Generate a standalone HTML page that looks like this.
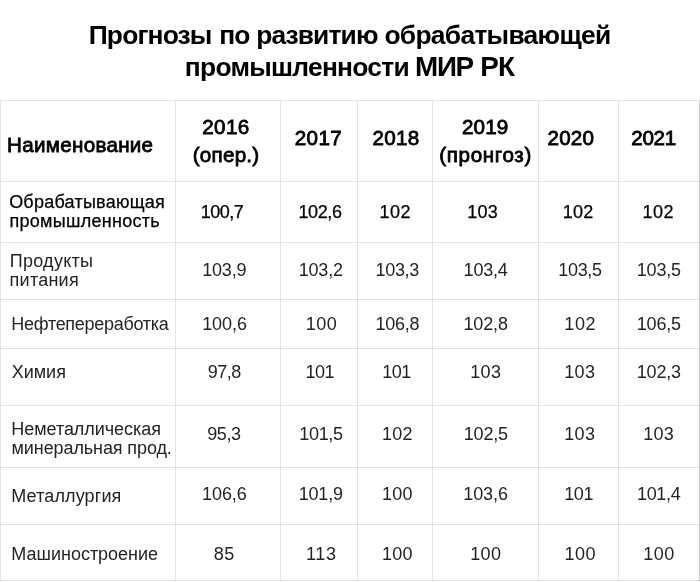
<!DOCTYPE html>
<html lang="ru">
<head>
<meta charset="utf-8">
<title>Прогнозы по развитию обрабатывающей промышленности МИР РК</title>
<style>
html,body{margin:0;padding:0;background:#fff;}
body{width:700px;height:582px;position:relative;overflow:hidden;font-family:"Liberation Sans",sans-serif;color:#111;}
h1{position:absolute;left:0;top:0;width:700px;height:100px;margin:0;font-size:26.4px;line-height:32px;font-weight:bold;color:#000;white-space:nowrap;}
h1 span{position:absolute;}
table{position:absolute;left:0;top:100px;border-collapse:separate;border-spacing:0;table-layout:fixed;width:700px;border-left:1px solid transparent;border-top:1px solid transparent;}
td,th{box-sizing:border-box;border-right:1px solid transparent;border-bottom:1px solid transparent;padding:0;text-align:center;vertical-align:middle;font-size:18px;line-height:19px;font-weight:normal;overflow:hidden;white-space:nowrap;}
th{font-weight:normal;font-size:20.6px;line-height:27.3px;-webkit-text-stroke:0.8px #000;color:#000;}
tbody tr:first-child td{-webkit-text-stroke:0.25px #000;color:#000;}
tbody tr+tr td{color:#242424;}
td:first-child,th:first-child{text-align:left;padding-left:10px;}
td span,th span{position:relative;display:inline-block;vertical-align:top;}
.grid i{position:absolute;display:block;background:rgba(0,0,0,.105);}
.grid .h{left:0;width:700px;height:1px;}
.grid .v{top:101px;width:1px;height:480px;}
.grid .v.e{background:rgba(0,0,0,.22);}
</style>
</head>
<body>
<h1><span style="left:88.72px;top:18.5px;letter-spacing:-0.84px">Прогнозы</span> <span style="left:219.28px;top:18.5px;letter-spacing:-0.85px">по</span> <span style="left:256.15px;top:18.5px;letter-spacing:-0.87px">развитию</span> <span style="left:384.46px;top:18.5px;letter-spacing:-0.71px">обрабатывающей</span> <span style="left:184.86px;top:51px;letter-spacing:-0.74px">промышленности</span> <span style="left:415.12px;top:51px;letter-spacing:-1.33px;font-size:27.8px">МИР</span> <span style="left:480.37px;top:51px;letter-spacing:-0.82px;font-size:27.8px">РК</span></h1>
<table>
<colgroup><col style="width:175px"><col style="width:105px"><col style="width:77px"><col style="width:75px"><col style="width:106px"><col style="width:80px"><col style="width:81px"></colgroup>
<thead>
<tr style="height:81px"><th><span style="left:-3.92px;top:4px;letter-spacing:0.29px">Наименование</span></th><th><span style="left:-2.1px;top:-1px;letter-spacing:0.38px">2016</span><br><span style="left:-1.95px;letter-spacing:0.26px">(опер.)</span></th><th><span style="left:-0.53px;top:-3px;letter-spacing:0.44px">2017</span></th><th><span style="left:0.93px;top:-3px;letter-spacing:0.27px">2018</span></th><th><span style="left:-0.37px;top:-1px;letter-spacing:0.16px">2019</span><br><span style="left:0.12px;letter-spacing:0.64px">(пронгоз)</span></th><th><span style="left:-7.63px;top:-3px;letter-spacing:0.27px">2020</span></th><th><span style="left:-5.48px;top:-3px;letter-spacing:-0.31px">2021</span></th></tr>
</thead>
<tbody>
<tr style="height:61px"><td><span style="left:-1.89px;letter-spacing:0.24px">Обрабатывающая</span><br><span style="left:-1.6px;letter-spacing:0.29px">промышленность</span></td><td><span style="left:-6.03px;letter-spacing:-0.5px">100,7</span></td><td><span style="left:0.99px;letter-spacing:-0.38px">102,6</span></td><td><span style="left:0.19px;letter-spacing:0.41px">102</span></td><td><span style="left:-2.94px;letter-spacing:0.21px">103</span></td><td><span style="left:-0.29px;letter-spacing:0.26px">102</span></td><td><span style="left:-0.82px;letter-spacing:0.41px">102</span></td></tr>
<tr style="height:57px"><td><span style="left:-1.35px;letter-spacing:0.29px">Продукты</span><br><span style="left:-1.42px;letter-spacing:0.24px">питания</span></td><td><span style="left:-3.75px;top:-1px;letter-spacing:-0.25px">103,9</span></td><td><span style="left:1.79px;top:-1px;letter-spacing:-0.2px">103,2</span></td><td><span style="left:2.28px;top:-1px;letter-spacing:-0.29px">103,3</span></td><td><span style="left:0.1px;top:-1px;letter-spacing:-0.22px">103,4</span></td><td><span style="left:1.5px;top:-1px;letter-spacing:-0.34px">103,5</span></td><td><span style="left:-0.22px;top:-1px;letter-spacing:-0.23px">103,5</span></td></tr>
<tr style="height:49px"><td><span style="left:0.3px;letter-spacing:-0.28px">Нефтепереработка</span></td><td><span style="left:-3.52px;letter-spacing:-0.07px">100,6</span></td><td><span style="left:2.43px;letter-spacing:0.46px">100</span></td><td><span style="left:2.38px;letter-spacing:-0.21px">106,8</span></td><td><span style="left:0.11px;letter-spacing:-0.12px">102,8</span></td><td><span style="left:1.72px;letter-spacing:0.56px">102</span></td><td><span style="left:-0.22px;letter-spacing:-0.23px">106,5</span></td></tr>
<tr style="height:57px"><td><span style="left:0.64px;top:-5px;letter-spacing:0.02px">Химия</span></td><td><span style="left:-3.72px;top:-5px;letter-spacing:-0.53px">97,8</span></td><td><span style="left:0.79px;top:-5px;letter-spacing:-0.56px">101</span></td><td><span style="left:1.44px;top:-5px;letter-spacing:-0.53px">101</span></td><td><span style="left:0.28px;top:-5px;letter-spacing:0.25px">103</span></td><td><span style="left:1.28px;top:-5px;letter-spacing:0.25px">103</span></td><td><span style="left:-0.22px;top:-5px;letter-spacing:-0.21px">102,3</span></td></tr>
<tr style="height:62px"><td><span style="left:0.3px;top:2px;letter-spacing:-0.05px">Неметаллическая</span><br><span style="left:0.58px;top:2px;letter-spacing:-0.1px">минеральная прод.</span></td><td><span style="left:-4.12px;top:-2px;letter-spacing:-0.48px">95,3</span></td><td><span style="left:2.01px;top:-2px;letter-spacing:-0.28px">101,5</span></td><td><span style="left:2.47px;top:-2px;letter-spacing:0.3px">102</span></td><td><span style="left:0.34px;top:-2px;letter-spacing:-0.14px">102,5</span></td><td><span style="left:1.28px;top:-2px;letter-spacing:0.25px">103</span></td><td><span style="left:-0.27px;top:-2px;letter-spacing:0.26px">103</span></td></tr>
<tr style="height:57px"><td><span style="left:0.3px;letter-spacing:0.12px">Металлургия</span></td><td><span style="left:-3.66px;top:-2px;letter-spacing:-0.08px">106,6</span></td><td><span style="left:1.78px;top:-2px;letter-spacing:-0.2px">101,9</span></td><td><span style="left:2.39px;top:-2px;letter-spacing:0.17px">100</span></td><td><span style="left:0.07px;top:-2px;letter-spacing:-0.09px">103,6</span></td><td><span style="left:0.14px;top:-2px;letter-spacing:-0.37px">101</span></td><td><span style="left:-0.32px;top:-2px;letter-spacing:-0.34px">101,4</span></td></tr>
<tr style="height:56px"><td><span style="left:0.3px;top:2px;letter-spacing:-0.01px">Машиностроение</span></td><td><span style="left:-3.73px;top:2px;letter-spacing:0.52px">85</span></td><td><span style="left:2.4px;top:2px;letter-spacing:0.72px">113</span></td><td><span style="left:2.39px;top:2px;letter-spacing:0.17px">100</span></td><td><span style="left:0.26px;top:2px;letter-spacing:0.28px">100</span></td><td><span style="left:1.69px;top:2px;letter-spacing:0.52px">100</span></td><td><span style="left:0.01px;top:2px;letter-spacing:0.41px">100</span></td></tr>
</tbody>
</table>
<div class="grid"><i class="h" style="top:100px"></i><i class="h" style="top:181px"></i><i class="h" style="top:242px"></i><i class="h" style="top:299px"></i><i class="h" style="top:348px"></i><i class="h" style="top:405px"></i><i class="h" style="top:467px"></i><i class="h" style="top:524px"></i><i class="h" style="top:580px"></i><i class="v" style="left:0px"></i><i class="v" style="left:175px"></i><i class="v" style="left:280px"></i><i class="v" style="left:357px"></i><i class="v" style="left:432px"></i><i class="v" style="left:538px"></i><i class="v" style="left:618px"></i><i class="v e" style="left:699px"></i></div>
</body>
</html>
